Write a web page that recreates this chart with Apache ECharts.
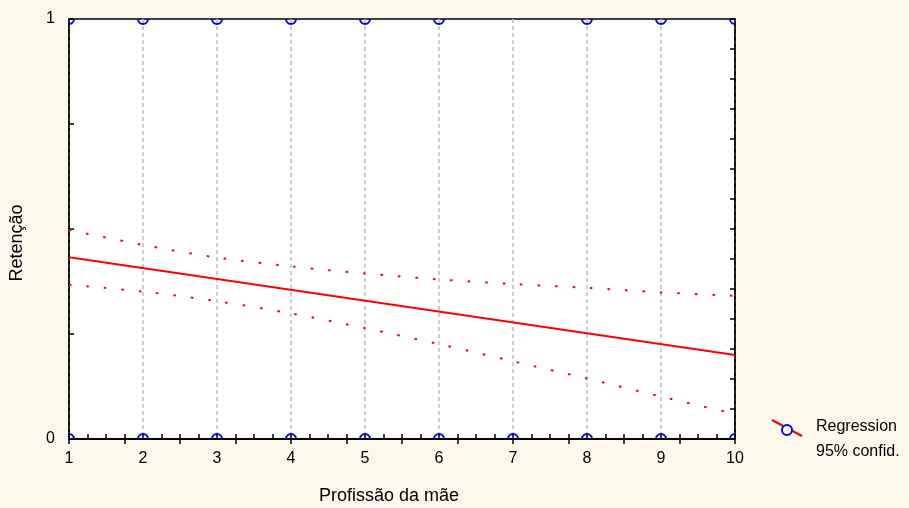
<!DOCTYPE html>
<html>
<head>
<meta charset="utf-8">
<style>
  html, body { margin: 0; padding: 0; background: #FCF8EC; }
  #chart { width: 909px; height: 508px; }
</style>
<script src="https://cdn.jsdelivr.net/npm/echarts@6/dist/echarts.min.js"></script>
</head>
<body>
<div id="chart"></div>
<script>
// Observed cases (Profissão da mãe vs Retenção, 0/1)
const obsX = [1, 2, 3, 4, 5, 6, 8, 9, 10, 1, 2, 3, 4, 5, 6, 7, 8, 9, 10];
const obsY = [1, 1, 1, 1, 1, 1, 1, 1, 1, 0, 0, 0, 0, 0, 0, 0, 0, 0, 0];

// Fitted regression line (end points)
const regX = [1, 10];
const regY = [0.433, 0.200];

// 95% confidence band
const bandX = [1, 2, 3, 4, 5, 6, 7, 8, 9, 10];
const bandUpper = [0.498, 0.462, 0.432, 0.411, 0.394, 0.380, 0.369, 0.360, 0.349, 0.341];
const bandLower = [0.367, 0.351, 0.328, 0.299, 0.264, 0.226, 0.185, 0.144, 0.101, 0.060];

// Tick labels
const xTicks = [1, 2, 3, 4, 5, 6, 7, 8, 9, 10];
const yTicks = [0, 1];

const legendNames = ['Regression', '95% confid.'];
const axisTitles = { x: 'Profissão da mãe', y: 'Retenção' };

const FONT = 'Liberation Sans, Arial, sans-serif';
const zip = (xs, ys) => xs.map((x, i) => [x, ys[i]]);

const chart = echarts.init(document.getElementById('chart'), null, { renderer: 'canvas' });

const tickStyle = { color: '#000', width: 1.5 };
const frameLine = { show: true, lineStyle: { color: '#000', width: 1.5 } };

chart.setOption({
  backgroundColor: '#FCF8EC',
  animation: false,
  grid: {
    left: 69, top: 19, right: 174, bottom: 69,
    show: true, backgroundColor: '#FFFFFF',
    borderColor: '#000', borderWidth: 1.5
  },
  xAxis: [
    {
      type: 'value', position: 'bottom',
      min: xTicks[0], max: xTicks[xTicks.length - 1], interval: 1,
      axisLine: frameLine,
      axisTick: { show: true, inside: true, length: 5, lineStyle: tickStyle },
      minorTick: { show: true, splitNumber: 4, length: 5, lineStyle: tickStyle },
      axisLabel: { color: '#000', fontSize: 16, fontFamily: FONT, margin: 12 },
      splitLine: { show: true, lineStyle: { color: '#BDBDBD', width: 1.5, type: [4, 3] } }
    },
    {
      type: 'value', position: 'top',
      min: 0, max: 12, interval: 1,
      axisLine: frameLine,
      axisTick: { show: true, inside: true, length: 5, lineStyle: tickStyle },
      axisLabel: { show: false },
      splitLine: { show: false }
    }
  ],
  yAxis: [
    {
      type: 'value', position: 'left',
      min: yTicks[0], max: yTicks[yTicks.length - 1], interval: 1,
      axisLine: frameLine,
      axisTick: { show: true, inside: true, length: 5, lineStyle: tickStyle },
      minorTick: { show: true, splitNumber: 4, length: 5, lineStyle: tickStyle },
      axisLabel: { color: '#000', fontSize: 16, fontFamily: FONT, margin: 14 },
      splitLine: { show: false }
    },
    {
      type: 'value', position: 'right',
      min: 0, max: 14, interval: 1,
      axisLine: frameLine,
      axisTick: { show: true, inside: true, length: 5, lineStyle: tickStyle },
      axisLabel: { show: false },
      splitLine: { show: false }
    }
  ],
  series: [
    {
      name: legendNames[1] + ' upper', type: 'line',
      xAxisIndex: 0, yAxisIndex: 0,
      data: zip(bandX, bandUpper), smooth: 0.3, symbol: 'none',
      lineStyle: { color: '#FF0000', width: 2, type: [2.5, 15] }, z: 3
    },
    {
      name: legendNames[1] + ' lower', type: 'line',
      xAxisIndex: 0, yAxisIndex: 0,
      data: zip(bandX, bandLower), smooth: 0.3, symbol: 'none',
      lineStyle: { color: '#FF0000', width: 2, type: [2.5, 15] }, z: 3
    },
    {
      name: legendNames[0], type: 'line',
      xAxisIndex: 0, yAxisIndex: 0,
      data: zip(regX, regY), symbol: 'none',
      lineStyle: { color: '#FF0000', width: 2 }, z: 4
    },
    {
      // observed cases as open circles, clipped to the plot frame
      name: 'Observed', type: 'custom',
      xAxisIndex: 0, yAxisIndex: 0,
      data: zip(obsX, obsY), clip: true, z: 5,
      renderItem: function (params, api) {
        const p = api.coord([api.value(0), api.value(1)]);
        return {
          type: 'circle',
          shape: { cx: p[0], cy: p[1], r: 5 },
          style: { fill: 'none', stroke: '#0000FF', lineWidth: 2 }
        };
      }
    }
  ],
  graphic: [
    // Axis titles
    {
      type: 'text', x: 389, y: 496,
      style: { text: axisTitles.x, fill: '#000', font: '18px ' + FONT,
               textAlign: 'center', textVerticalAlign: 'middle' }
    },
    {
      type: 'text', x: 17, y: 243, rotation: Math.PI / 2,
      style: { text: axisTitles.y, fill: '#000', font: '18px ' + FONT,
               textAlign: 'center', textVerticalAlign: 'middle' }
    },
    // Legend
    {
      type: 'line', shape: { x1: 772, y1: 420, x2: 802, y2: 436 },
      style: { stroke: '#FF0000', lineWidth: 2 }
    },
    {
      type: 'circle', shape: { cx: 787, cy: 430, r: 5 },
      style: { fill: '#FFFFFF', stroke: '#0000FF', lineWidth: 2 }
    },
    {
      type: 'text',
      style: { text: legendNames[0], fill: '#000', font: '16px ' + FONT,
               x: 816, y: 427, textVerticalAlign: 'middle' }
    },
    {
      type: 'text',
      style: { text: legendNames[1], fill: '#000', font: '16px ' + FONT,
               x: 816, y: 452, textVerticalAlign: 'middle' }
    }
  ]
});
</script>
</body>
</html>
